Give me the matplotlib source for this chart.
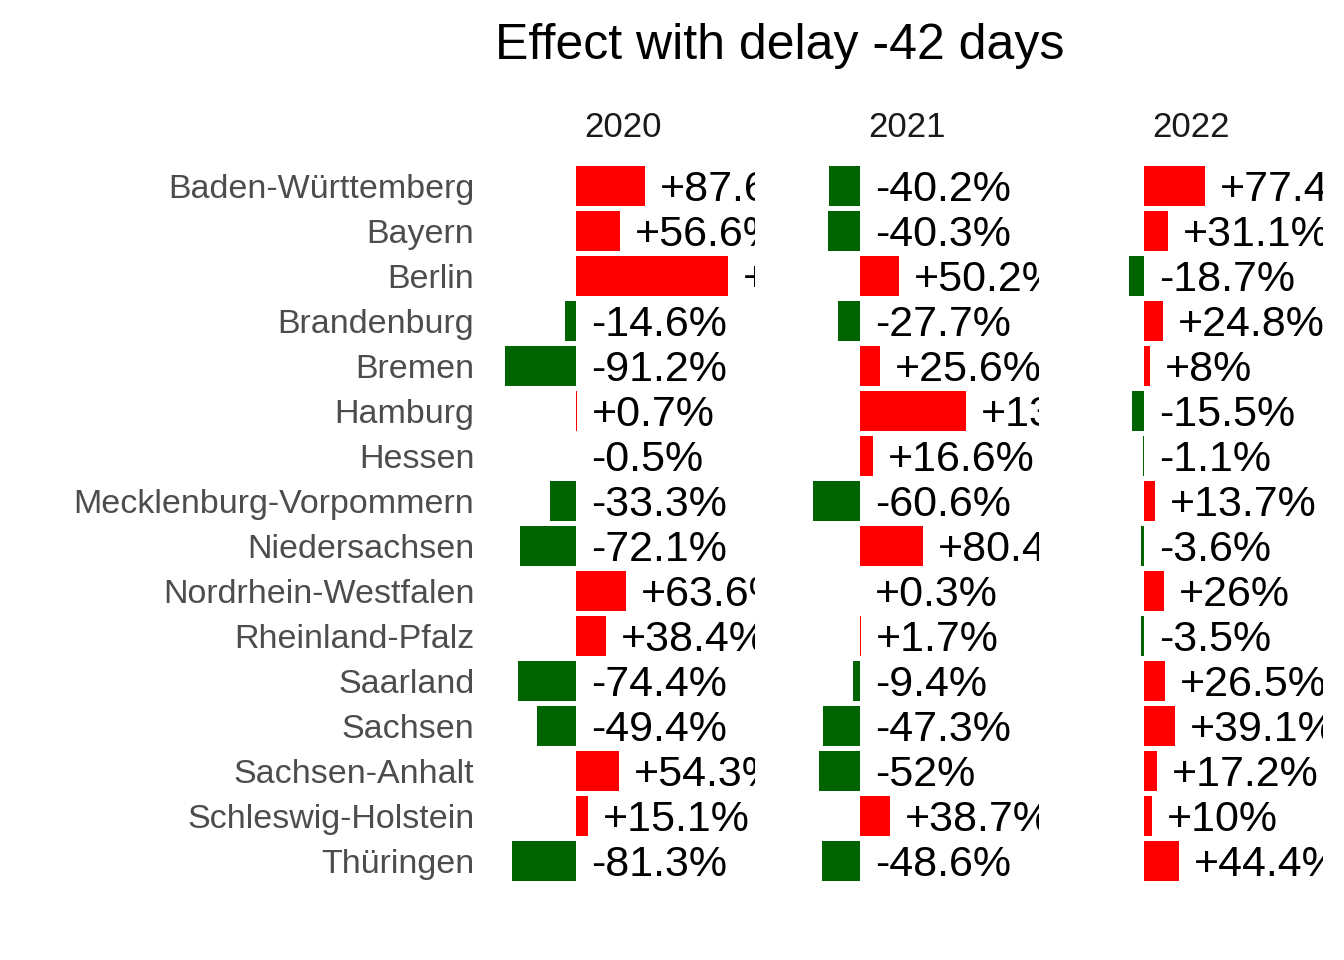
import matplotlib.pyplot as plt
import numpy as np

plt.rcParams['font.family'] = ['Liberation Sans', 'DejaVu Sans']

states = ['Baden-Württemberg', 'Bayern', 'Berlin', 'Brandenburg', 'Bremen',
          'Hamburg', 'Hessen', 'Mecklenburg-Vorpommern', 'Niedersachsen',
          'Nordrhein-Westfalen', 'Rheinland-Pfalz', 'Saarland', 'Sachsen',
          'Sachsen-Anhalt', 'Schleswig-Holstein', 'Thüringen']
years = ['2020', '2021', '2022']
effect_2020 = [87.6, 56.6, 194.0, -14.6, -91.2, 0.7, -0.5, -33.3, -72.1,
               63.6, 38.4, -74.4, -49.4, 54.3, 15.1, -81.3]
effect_2021 = [-40.2, -40.3, 50.2, -27.7, 25.6, 135.4, 16.6, -60.6, 80.4,
               0.3, 1.7, -9.4, -47.3, -52.0, 38.7, -48.6]
effect_2022 = [77.4, 31.1, -18.7, 24.8, 8.0, -15.5, -1.1, 13.7, -3.6,
               26.0, -3.5, 26.5, 39.1, 17.2, 10.0, 44.4]
effects = [effect_2020, effect_2021, effect_2022]


def fmt(v):
    s = f'{abs(v):.1f}'.rstrip('0').rstrip('.')
    return ('+' if v >= 0 else '-') + s + '%'


W, H = 1344, 960
fig = plt.figure(figsize=(W / 100, H / 100), dpi=100)

y = np.arange(len(states))
panel_w = 264
for k, (year, vals) in enumerate(zip(years, effects)):
    left = 491 + 284 * k
    ax = fig.add_axes([left / W, (H - 888) / H, panel_w / W, 729 / H])
    vals = np.array(vals)
    colors = np.where(vals >= 0, '#FF0000', '#006400')
    ax.barh(y, vals, height=0.9, color=colors)
    for yi, v in zip(y, vals):
        ax.text(max(v, 0) + 19, yi + 0.08, fmt(v), fontsize=31, va='center',
                ha='left', color='black', clip_on=True)
    ax.set_xlim(-108.6, 228.6)
    ax.set_ylim(len(states) - 0.4, -0.6)
    ax.set_xticks([])
    ax.set_title(year, fontsize=25, color='#1A1A1A', pad=16)
    for sp in ax.spines.values():
        sp.set_visible(False)
    if k == 0:
        ax.set_yticks(y)
        ax.set_yticklabels(states, fontsize=24.5, color='#4D4D4D')
        ax.tick_params(axis='y', length=0, pad=12)
    else:
        ax.set_yticks([])

fig.text(780 / W, 1 - 46 / H, 'Effect with delay -42 days', fontsize=36,
         ha='center', va='center')

fig.savefig('out.png', dpi=100)
